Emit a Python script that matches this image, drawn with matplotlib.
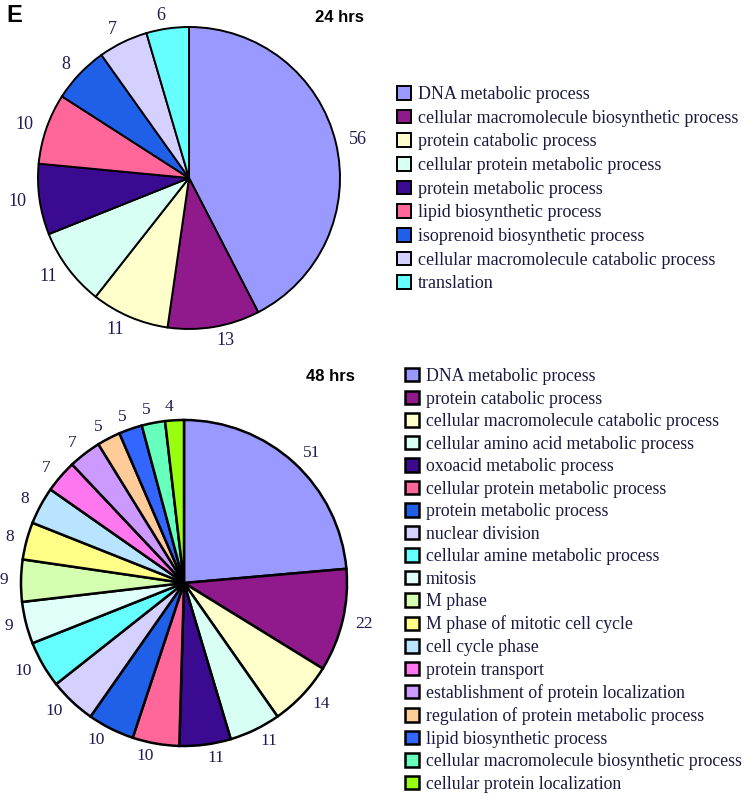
import matplotlib
matplotlib.use("Agg")
import matplotlib.pyplot as plt

# 24 hrs
labels_24 = [
    "DNA metabolic process",
    "cellular macromolecule biosynthetic process",
    "protein catabolic process",
    "cellular protein metabolic process",
    "protein metabolic process",
    "lipid biosynthetic process",
    "isoprenoid biosynthetic process",
    "cellular macromolecule catabolic process",
    "translation",
]
counts_24 = [56, 13, 11, 11, 10, 10, 8, 7, 6]
colors_24 = ["#9999ff", "#901a8c", "#ffffcc", "#d8fff4", "#3a0a90",
             "#ff6699", "#2060e8", "#d4d0ff", "#66ffff"]

# 48 hrs
labels_48 = [
    "DNA metabolic process",
    "protein catabolic process",
    "cellular macromolecule catabolic process",
    "cellular amino acid metabolic process",
    "oxoacid metabolic process",
    "cellular protein metabolic process",
    "protein metabolic process",
    "nuclear division",
    "cellular amine metabolic process",
    "mitosis",
    "M phase",
    "M phase of mitotic cell cycle",
    "cell cycle phase",
    "protein transport",
    "establishment of protein localization",
    "regulation of protein metabolic process",
    "lipid biosynthetic process",
    "cellular macromolecule biosynthetic process",
    "cellular protein localization",
]
counts_48 = [51, 22, 14, 11, 11, 10, 10, 10, 10, 9, 9, 8, 8, 7, 7, 5, 5, 5, 4]
colors_48 = ["#9999ff", "#901a8c", "#ffffcc", "#d8fff4", "#3a0a90",
             "#ff6699", "#2060e8", "#d4d0ff", "#66ffff", "#e0fff8",
             "#d4ffb0", "#ffff88", "#b8e4ff", "#ff77ee", "#cc99ff",
             "#ffcc99", "#3366ff", "#66ffbb", "#99ff11"]

W, H = 750, 801
fig = plt.figure(figsize=(W / 100, H / 100), dpi=100)
fig.patch.set_facecolor("white")

serif = ["Liberation Serif", "DejaVu Serif"]
lab_color = "#1e1a52"


def pie_axes(cx, cy, r):
    return fig.add_axes([(cx - r) / W, (H - cy - r) / H, 2 * r / W, 2 * r / H])


# top pie
ax1 = pie_axes(189, 178, 151)
w1, t1 = ax1.pie(counts_24, labels=[str(c) for c in counts_24], colors=colors_24,
                 startangle=90, counterclock=False, labeldistance=1.09,
                 wedgeprops=dict(edgecolor="black", linewidth=1.4),
                 textprops=dict(fontfamily=serif, fontsize=13, color=lab_color))
ax1.set_xlim(-1, 1)
ax1.set_ylim(-1, 1)
ax1.set_aspect("equal")
ax1.axis("off")

# bottom pie
ax2 = pie_axes(184, 583, 163)
w2, t2 = ax2.pie(counts_48, labels=[str(c) for c in counts_48], colors=colors_48,
                 startangle=90, counterclock=False, labeldistance=1.08,
                 wedgeprops=dict(edgecolor="black", linewidth=1.8),
                 textprops=dict(fontfamily=serif, fontsize=12.5, color=lab_color))
ax2.set_xlim(-1, 1)
ax2.set_ylim(-1, 1)
ax2.set_aspect("equal")
ax2.axis("off")

leg_kw = dict(loc="upper left", frameon=False, borderpad=0, borderaxespad=0,
              handlelength=0.78, handleheight=0.78, handletextpad=0.4)

fig.legend(w1, labels_24, bbox_to_anchor=(397 / W, 1 - 86 / H),
           labelspacing=0.365, labelcolor="#1a1a40",
           prop=dict(family=serif, size=13), **leg_kw)
fig.legend(w2, labels_48, bbox_to_anchor=(405 / W, 1 - 368 / H),
           labelspacing=0.31, labelcolor="#1a1a40",
           prop=dict(family=serif, size=12.8), **leg_kw)

fig.text(6 / W, 1 - 16 / H, "E", fontsize=17, fontweight="bold",
         family="Liberation Sans", va="center", ha="left")
fig.text(339 / W, 1 - 17 / H, "24 hrs", fontsize=12, fontweight="bold",
         family="Liberation Sans", va="center", ha="center")
fig.text(330 / W, 1 - 376 / H, "48 hrs", fontsize=12, fontweight="bold",
         family="Liberation Sans", va="center", ha="center")

fig.savefig("out.png", dpi=100)
